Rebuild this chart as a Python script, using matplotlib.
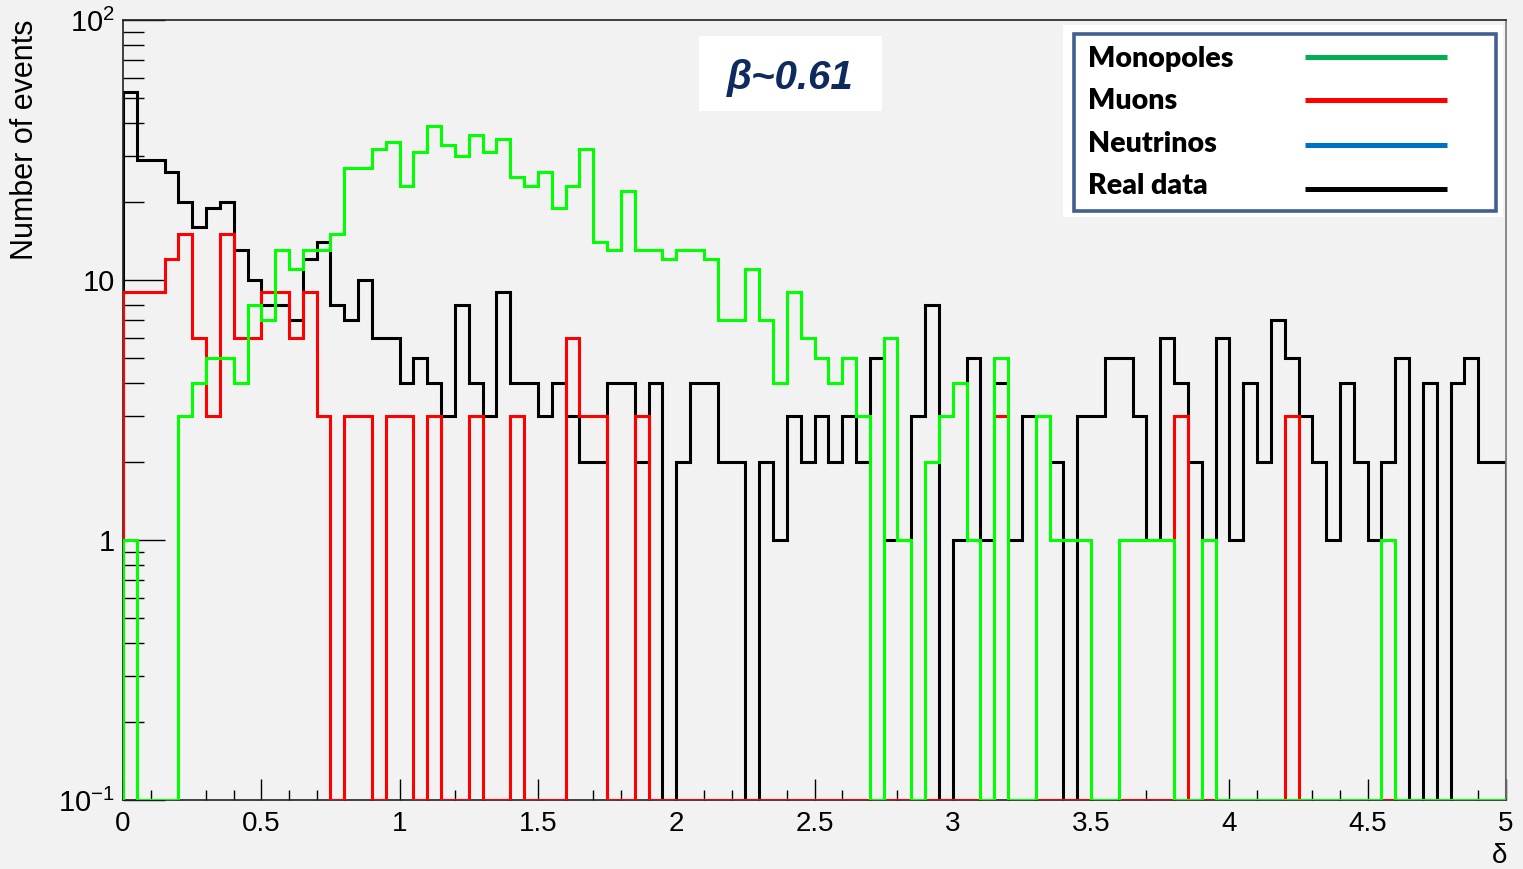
import numpy as np
import matplotlib
matplotlib.use("Agg")
import matplotlib.pyplot as plt
from matplotlib.patches import Rectangle
from matplotlib.lines import Line2D
from matplotlib.ticker import MultipleLocator, LogLocator, FixedLocator, FixedFormatter, NullFormatter

plt.rcParams['font.family'] = ['Liberation Sans', 'DejaVu Sans']
plt.rcParams['mathtext.fontset'] = 'custom'
plt.rcParams['mathtext.rm'] = 'Liberation Sans'

# 100 bins of 0.05 in delta
edges = np.linspace(0, 5, 101)

real_data = [53, 29, 29, 26, 20, 16, 19, 20, 13, 10,
             8, 8, 7, 12, 14, 8, 7, 10, 6, 6,
             4, 5, 4, 3, 8, 4, 3, 9, 4, 4,
             3, 4, 3, 2, 2, 4, 4, 2, 4, 0,
             2, 4, 4, 2, 2, 0, 2, 1, 3, 2,
             3, 2, 3, 2, 5, 1, 1, 3, 8, 0,
             1, 5, 1, 4, 1, 3, 3, 2, 0, 3,
             3, 5, 5, 3, 1, 6, 4, 2, 1, 6,
             1, 4, 2, 7, 5, 3, 2, 1, 4, 2,
             1, 2, 5, 0, 4, 0, 4, 5, 2, 2]

monopoles = [1, 0, 0, 0, 3, 4, 5, 5, 4, 8,
             7, 13, 11, 13, 13, 15, 27, 27, 32, 34,
             23, 31, 39, 33, 30, 36, 31, 35, 25, 23,
             26, 19, 23, 32, 14, 13, 22, 13, 13, 12,
             13, 13, 12, 7, 7, 11, 7, 4, 9, 6,
             5, 4, 5, 3, 0, 6, 1, 0, 2, 3,
             4, 1, 0, 5, 0, 0, 3, 1, 1, 1,
             0, 0, 1, 1, 1, 1, 0, 0, 1, 0,
             0, 0, 0, 0, 0, 0, 0, 0, 0, 0,
             0, 1, 0, 0, 0, 0, 0, 0, 0, 0]

muons = [9, 9, 9, 12, 15, 6, 3, 15, 6, 6,
         9, 9, 6, 9, 3, 0, 3, 3, 0, 3,
         3, 0, 3, 0, 0, 3, 0, 0, 3, 0,
         0, 0, 6, 3, 3, 0, 0, 3, 0, 0,
         0, 0, 0, 0, 0, 0, 0, 0, 0, 0,
         0, 0, 0, 0, 0, 0, 0, 0, 0, 0,
         0, 0, 0, 3, 0, 0, 0, 0, 0, 0,
         0, 0, 0, 0, 0, 0, 3, 0, 0, 0,
         0, 0, 0, 0, 3, 0, 0, 0, 0, 0,
         0, 0, 0, 0, 0, 0, 0, 0, 0, 0]

x_ticks = [0, 0.5, 1, 1.5, 2, 2.5, 3, 3.5, 4, 4.5, 5]
x_labels = ["0", "0.5", "1", "1.5", "2", "2.5", "3", "3.5", "4", "4.5", "5"]
y_ticks = [0.1, 1, 10, 100]
y_labels = [r"$10^{-1}$", "1", "10", r"$10^{2}$"]

legend_names = ["Monopoles", "Muons", "Neutrinos", "Real data"]
legend_colors = ["#00b050", "#ff0000", "#0070c0", "#000000"]

ymin, ymax = 0.1, 100
bg = "#f2f2f2"

fig = plt.figure(figsize=(15.23, 8.69), dpi=100, facecolor=bg)
ax = fig.add_axes([0.0808, 0.0794, 0.908, 0.8976], facecolor=bg)

# empty bins sit on the lower edge of the log axis
def clip(v):
    return np.clip(np.asarray(v, dtype=float), ymin, None)

ax.stairs(clip(real_data), edges, baseline=ymin, color="black", lw=2.2, zorder=2)
ax.stairs(clip(muons), edges, baseline=ymin, color="#ff0000", lw=2.2, zorder=3)
ax.stairs(clip(monopoles), edges, baseline=ymin, color="#00ff00", lw=2.2, zorder=4)

ax.set_yscale("log")
ax.set_xlim(0, 5)
ax.set_ylim(ymin, ymax)

ax.xaxis.set_major_locator(FixedLocator(x_ticks))
ax.xaxis.set_major_formatter(FixedFormatter(x_labels))
ax.xaxis.set_minor_locator(MultipleLocator(0.1))
ax.yaxis.set_major_locator(FixedLocator(y_ticks))
ax.yaxis.set_major_formatter(FixedFormatter(y_labels))
ax.yaxis.set_minor_locator(LogLocator(base=10, subs=np.arange(2, 10)))
ax.yaxis.set_minor_formatter(NullFormatter())

ax.tick_params(axis="x", which="major", direction="in", length=15, width=1, labelsize=20, pad=8, top=False)
ax.tick_params(axis="x", which="minor", direction="in", length=7, width=1, top=False)
ax.tick_params(axis="y", which="major", direction="in", length=30, width=1, labelsize=21, pad=6, right=False)
ax.tick_params(axis="y", which="minor", direction="in", length=15, width=1, right=False)

for s in ax.spines.values():
    s.set_linewidth(1.2)
    s.set_color("#222222")
ax.spines["right"].set_color("#777777")

fig.text(0.0164, 0.977, "Number of events", fontsize=22, rotation=90, ha="center", va="top")
fig.text(0.9845, 0.0155, "\u03b4", fontsize=20, ha="center", va="center")

# beta label
fig.patches.append(Rectangle((0.459, 0.8723), 0.1202, 0.0863, transform=fig.transFigure,
                             facecolor="white", edgecolor="none", zorder=5))
fig.text(0.5187, 0.9102, "\u03b2~0.61", fontsize=29, fontweight="bold", fontstyle="italic",
         color="#0f2a5e", ha="center", va="center", zorder=6)

# legend box
fig.patches.append(Rectangle((0.698, 0.7503), 0.2889, 0.221, transform=fig.transFigure,
                             facecolor="white", edgecolor="none", zorder=5))
fig.patches.append(Rectangle((0.7052, 0.7572), 0.2771, 0.2037, transform=fig.transFigure,
                             facecolor="white", edgecolor="#41608f", lw=2.6, zorder=6))
text_y = [0.9321, 0.8838, 0.8343, 0.7860]
line_y = [0.9344, 0.8849, 0.8331, 0.7825]
for name, col, ty, ly in zip(legend_names, legend_colors, text_y, line_y):
    fig.text(0.7144, ty, name, fontsize=20.5, fontweight="heavy", ha="left", va="center",
             family=["Lato", "DejaVu Sans"], zorder=7)
    fig.lines.append(Line2D([0.8569, 0.9501], [ly, ly], transform=fig.transFigure,
                            color=col, lw=3.6, solid_capstyle="butt", zorder=7))

fig.savefig("out.png", dpi=100, facecolor=bg)
